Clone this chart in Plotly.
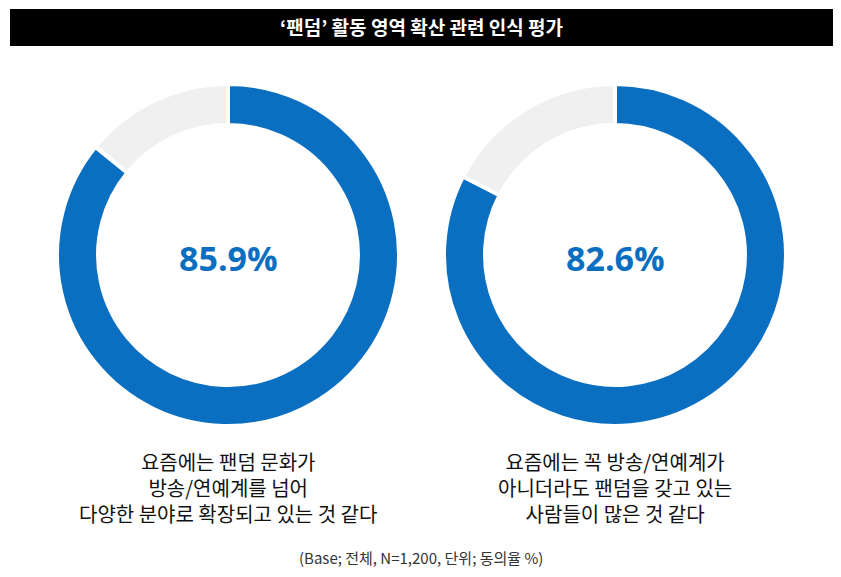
import plotly.graph_objects as go

W, H = 841, 577
OX, OY = 8, 8  # page body margin offset
values1 = [85.9, 14.1]
values2 = [82.6, 17.4]
labels = ["동의", "비동의"]
captions = ["요즘에는 팬덤 문화가<br>방송/연예계를 넘어<br>다양한 분야로 확장되고 있는 것 같다",
            "요즘에는 꼭 방송/연예계가<br>아니더라도 팬덤을 갖고 있는<br>사람들이 많은 것 같다"]
title = "‘팬덤’ 활동 영역 확산 관련 인식 평가"
note = "(Base; 전체, N=1,200, 단위; 동의율 %)"

def px(x): return (x - OX) / W
def py(y): return 1 - (y - OY) / H

BLUE, GRAY = "#0b6fc1", "#f0f0f0"
fig = go.Figure()
centers = [228, 615]
for vals, cx in zip([values1, values2], centers):
    fig.add_trace(go.Pie(values=vals, labels=labels, hole=0.76, sort=False, direction="clockwise",
                         rotation=0, marker=dict(colors=[BLUE, GRAY], line=dict(color="white", width=4)),
                         textinfo="none", hoverinfo="skip", showlegend=False,
                         domain=dict(x=[px(cx-171), px(cx+171)], y=[py(426), py(84)])))
    fig.add_annotation(x=px(cx), y=py(258), xref="paper", yref="paper", text=f"<b>{vals[0]}%</b>",
                       showarrow=False, xanchor="center", yanchor="middle",
                       font=dict(size=34, color=BLUE, family="Open Sans"))
for cap, cx in zip(captions, centers):
    fig.add_annotation(x=px(cx), y=py(487), xref="paper", yref="paper", text=cap, showarrow=False,
                       xanchor="center", yanchor="middle",
                       font=dict(size=20, color="#111", family="Noto Sans CJK KR"), align="center")
fig.add_shape(type="rect", xref="paper", yref="paper", x0=px(10), x1=px(833), y0=py(46), y1=py(9),
              fillcolor="black", line=dict(width=0))
fig.add_annotation(x=px(421), y=py(27), xref="paper", yref="paper", text=f"<b>{title}</b>", showarrow=False,
                   xanchor="center", yanchor="middle",
                   font=dict(size=19, color="white", family="Noto Sans CJK KR"))
fig.add_annotation(x=px(421), y=py(557), xref="paper", yref="paper", text=note, showarrow=False,
                   xanchor="center", yanchor="middle",
                   font=dict(size=15, color="#333", family="Noto Sans CJK KR"))
fig.update_layout(width=W, height=H, margin=dict(l=0, r=0, t=0, b=0), paper_bgcolor="white")
fig.write_html("out.html")
